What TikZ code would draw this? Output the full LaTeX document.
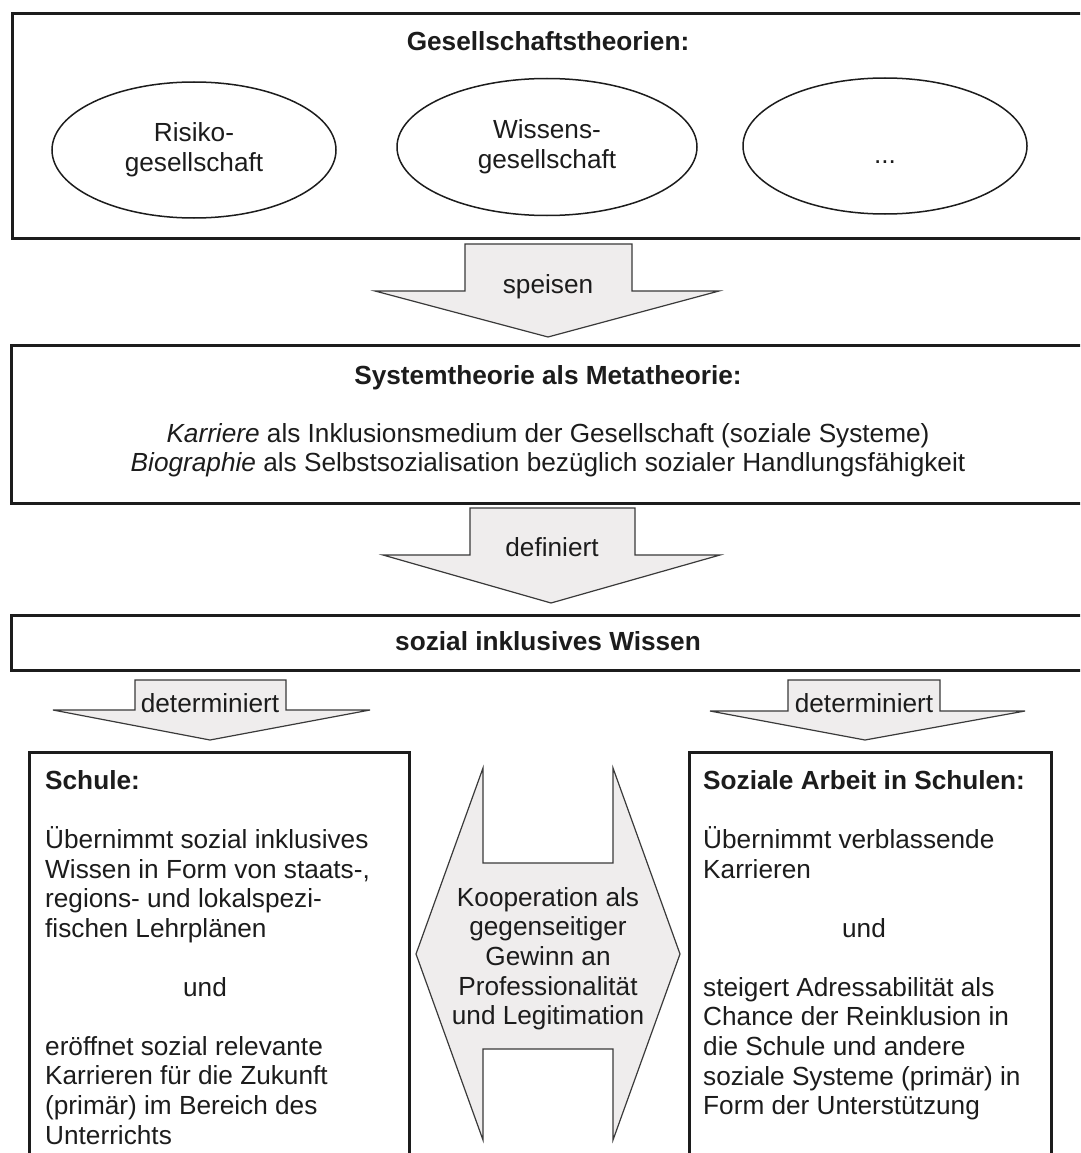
\documentclass[tikz,border=0pt]{standalone}
\usepackage{fontspec}
\setmainfont{Liberation Sans}
\usetikzlibrary{shapes.geometric}
\definecolor{ink}{HTML}{1C1C1C}
\definecolor{arrowfill}{HTML}{EFEDED}
\definecolor{arrowline}{HTML}{3A3A3A}
\tikzset{
  frame/.style={draw=ink, line width=3pt, anchor=north west, inner sep=0pt},
  blockarrow/.style={draw=arrowline, fill=arrowfill, line width=1.2pt, line join=miter},
  ell/.style={draw=ink, line width=1.5pt, ellipse, inner sep=0pt, align=center, text=ink,
              font=\fontsize{26.2}{29.6}\selectfont},
  txt/.style={inner sep=0pt, text=ink, font=\fontsize{26.2}{29.6}\selectfont},
  para/.style={txt, align=left, anchor=north west},
}
\newcommand{\firstln}{\rule{0pt}{26pt}}
\begin{document}
\begin{tikzpicture}[x=1pt,y=-1pt]
\useasboundingbox (0,0) rectangle (1080,1153);
\clip (0,0) rectangle (1080,1153);
\fill[white] (0,0) rectangle (1080,1153);

% --- Gesellschaftstheorien box
\node[frame, minimum width=1090pt, minimum height=225pt] (gt) at (11,12) {};
\node[txt, anchor=base] (gtT) at (548,51) {\textbf{Gesellschaftstheorien:}};
\node[ell, minimum width=284pt, minimum height=136pt] (e1) at (194,150) {Risiko-\\gesellschaft};
\node[ell, minimum width=300pt, minimum height=137pt] (e2) at (547,147) {Wissens-\\gesellschaft};
\node[ell, minimum width=284pt, minimum height=136pt] (e3) at (885,146) {};
\node[txt, anchor=base] (e3T) at (885,163) {...};

% --- speisen arrow
\draw[blockarrow] (465,244) -- (632,244) -- (632,291) -- (719,291) -- (548,337)
   -- (375,291) -- (465,291) -- cycle;
\node[txt, anchor=base] (spT) at (548,293) {speisen};

% --- Systemtheorie box
\node[frame, minimum width=1090pt, minimum height=158pt] (st) at (10,344) {};
\node[txt, anchor=base] (stT) at (548,384) {\textbf{Systemtheorie als Metatheorie:}};
\node[txt, anchor=base] (st1) at (548,442) {\textit{Karriere} als Inklusionsmedium der Gesellschaft (soziale Systeme)};
\node[txt, anchor=base] (st2) at (548,471) {\textit{Biographie} als Selbstsozialisation bezüglich sozialer Handlungsfähigkeit};

% --- definiert arrow
\draw[blockarrow] (470,508) -- (635,508) -- (635,555) -- (720,555) -- (551,603)
   -- (383,555) -- (470,555) -- cycle;
\node[txt, anchor=base] (defT) at (552,556) {definiert};

% --- sozial inklusives Wissen box
\node[frame, minimum width=1090pt, minimum height=55pt] (siw) at (10,614) {};
\node[txt, anchor=base] (siwT) at (548,650) {\textbf{sozial inklusives Wissen}};

% --- determiniert arrows
\draw[blockarrow] (135,680) -- (286,680) -- (286,710) -- (370,710) -- (210,740)
   -- (53,710) -- (135,710) -- cycle;
\node[txt, anchor=base] (detL) at (210,712) {determiniert};
\draw[blockarrow] (788,680) -- (940,680) -- (940,711) -- (1025,711) -- (865,740)
   -- (710,711) -- (788,711) -- cycle;
\node[txt, anchor=base] (detR) at (864,712) {determiniert};

% --- bottom boxes
\node[frame, minimum width=380pt, minimum height=450pt] (schule) at (28,751) {};
\node[frame, minimum width=362pt, minimum height=450pt] (sas) at (688,751) {};

\node[para] (L1) at (45,763) {\firstln\textbf{Schule:}\\[29.6pt]
  Übernimmt sozial inklusives\\Wissen in Form von staats-,\\regions- und lokalspezi-\\fischen Lehrplänen};
\node[txt, anchor=base] (Lund) at (205,996) {und};
\node[para] (L2) at (45,1029) {\firstln eröffnet sozial relevante\\Karrieren für die Zukunft\\(primär) im Bereich des\\Unterrichts};

\node[para] (R1) at (703,763) {\firstln\textbf{Soziale Arbeit in Schulen:}\\[29.6pt]
  Übernimmt verblassende\\Karrieren};
\node[txt, anchor=base] (Rund) at (864,937) {und};
\node[para] (R2) at (703,970) {\firstln steigert Adressabilität als\\Chance der Reinklusion in\\die Schule und andere\\soziale Systeme (primär) in\\Form der Unterstützung};

% --- double arrow
\draw[blockarrow] (416,954) -- (483,768) -- (483,863) -- (613,863) -- (613,768)
   -- (680,954) -- (613,1140) -- (613,1049) -- (483,1049) -- (483,1140) -- cycle;
\node[txt, align=center, anchor=north] (koop) at (548,880) {\firstln Kooperation als\\gegenseitiger\\Gewinn an\\Professionalität\\und Legitimation};
\end{tikzpicture}
\end{document}
